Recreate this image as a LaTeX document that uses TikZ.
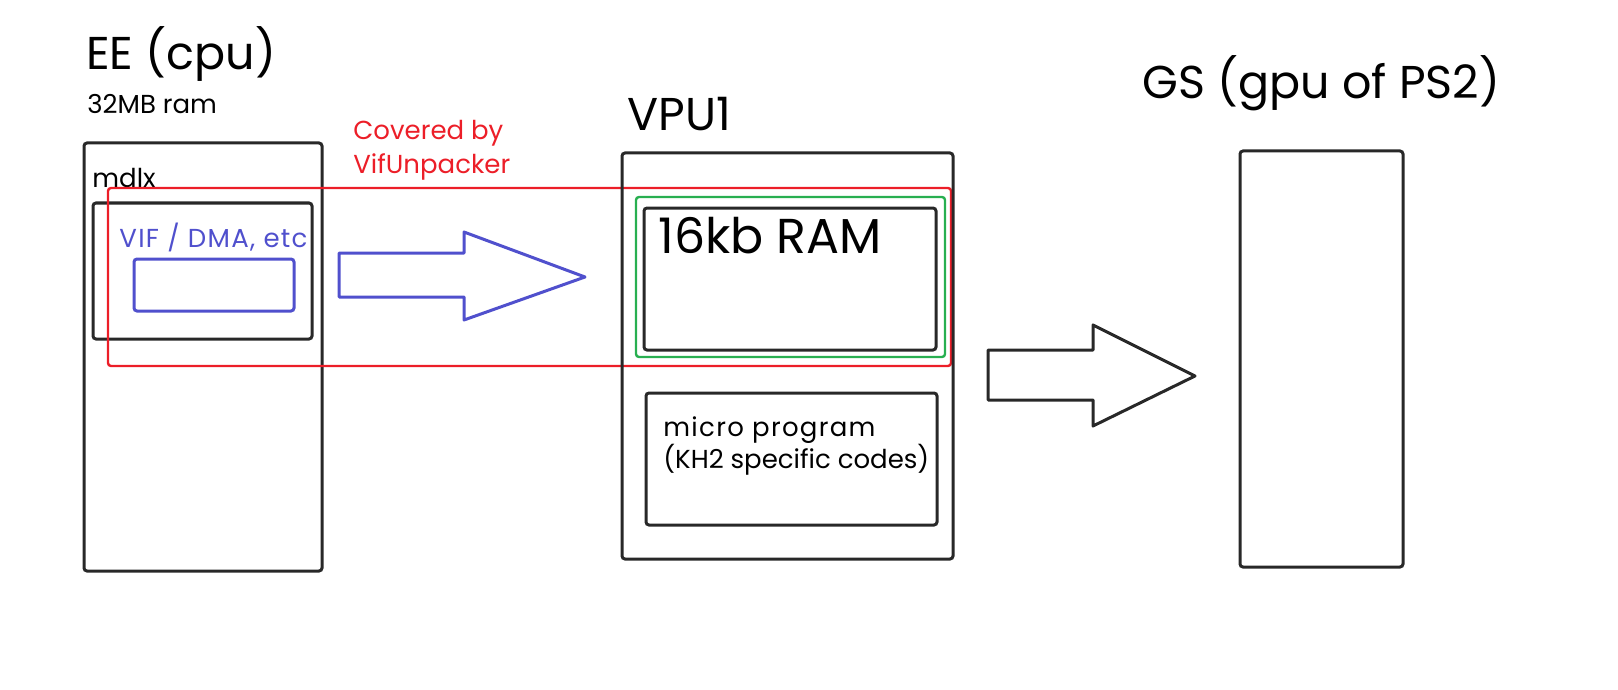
\documentclass[tikz,border=0pt]{standalone}
\usepackage{fontspec}
\setmainfont{Poppins}
\usetikzlibrary{positioning}

\definecolor{sketch}{RGB}{40,40,40}
\definecolor{vifred}{RGB}{236,30,40}
\definecolor{vifblue}{RGB}{80,80,205}
\definecolor{ramgreen}{RGB}{40,175,80}

\tikzset{
    box/.style={draw=sketch, line width=1.5pt, rounded corners=1.5pt},
    title/.style={font=\fontsize{23}{28}\selectfont, inner sep=0pt, anchor=base west},
    label/.style={font=\fontsize{13}{15}\selectfont, inner sep=0pt, anchor=base west},
    wide/.style={font=\fontsize{13}{15}\selectfont\addfontfeature{LetterSpace=5}},
    blockarrow/.style={line width=1.5pt, line join=round},
}

\begin{document}
\begin{tikzpicture}[x=0.5pt, y=-0.5pt]
\useasboundingbox (0,0) rectangle (1618,690);

% EE side
\node[title] (eeTitle) at (86,70) {EE (cpu)};
\node[label] (eeRam) at (87,114) {32MB ram};
\draw[box] (84,143) rectangle (322,571);
\node[label] (mdlx) at (92,187) {mdlx};
\draw[box] (93,203) rectangle (312,339);
\node[label, wide, text=vifblue] (vif) at (119,248) {VIF / DMA, etc};
\draw[box, draw=vifblue] (134,259) rectangle (294,311);

% VifUnpacker region
\draw[box, draw=vifred, line width=1.2pt] (108,188) rectangle (951,366);
\node[label, text=vifred] (covered) at (353,140) {Covered by};
\node[label, text=vifred, below=17pt of covered.base west, anchor=base west] (unpacker) {VifUnpacker};

% VIF -> VPU1
\draw[blockarrow, draw=vifblue] (339,253) -- (464,253) -- (464,232) -- (585,277)
    -- (464,320) -- (464,297) -- (339,297) -- cycle;

% VPU1
\node[title] (vpuTitle) at (627,131) {VPU1};
\draw[box] (622,153) rectangle (953,559);
\draw[box, draw=ramgreen, line width=1.2pt] (636,197) rectangle (945,357);
\draw[box] (644,208) rectangle (936,350);
\node[title, font=\fontsize{24.5}{28}\selectfont] (ram) at (658,253) {16kb RAM};
\draw[box] (646,393) rectangle (937,525);
\node[label, wide] (micro) at (663,436) {micro program};
\node[label, below=16pt of micro.base west, anchor=base west] (kh2) {(KH2 specific codes)};

% VPU1 -> GS
\draw[blockarrow, draw=sketch] (988,350) -- (1093,350) -- (1093,325) -- (1195,376)
    -- (1093,426) -- (1093,400) -- (988,400) -- cycle;

% GS
\node[title] (gsTitle) at (1142,99) {GS (gpu of PS2)};
\draw[box] (1240,151) rectangle (1403,567);
\end{tikzpicture}
\end{document}
